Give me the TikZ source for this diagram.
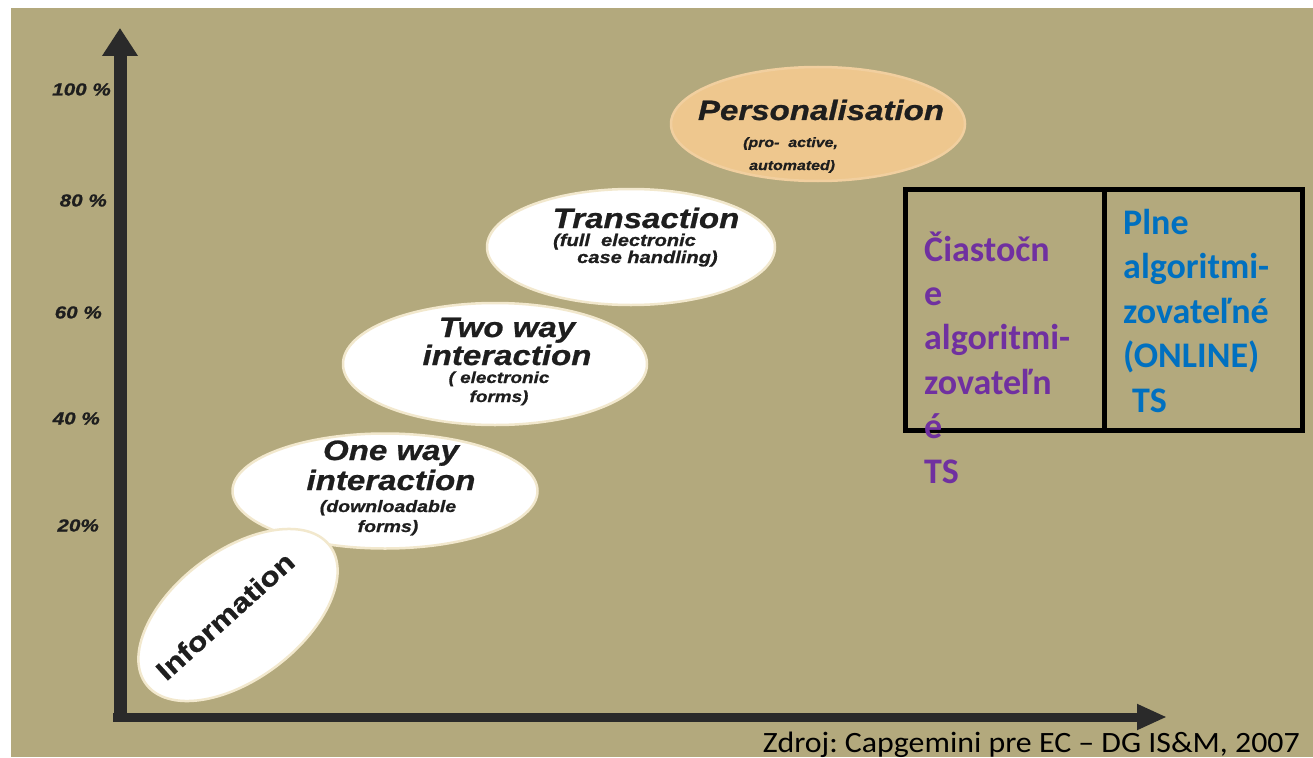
\documentclass[tikz,border=0pt]{standalone}
\usepackage{fontspec}
\usetikzlibrary{shapes.geometric,arrows.meta}
\newfontfamily\hvfont[FakeStretch=1.18,FakeBold=0.8]{Liberation Sans}
\newfontfamily\calfont{Carlito}
\newfontfamily\calwide[FakeStretch=1.08]{Carlito}
\definecolor{khaki}{RGB}{179,169,125}
\definecolor{axisgray}{RGB}{42,42,42}
\definecolor{peach}{RGB}{238,199,142}
\definecolor{creamedge}{RGB}{242,232,205}
\definecolor{tspurple}{RGB}{112,48,160}
\definecolor{tsblue}{RGB}{0,112,192}
\definecolor{labelink}{RGB}{30,30,30}
\tikzset{
  stage/.style={ellipse, fill=white, draw=creamedge, line width=2.5pt, inner sep=0pt},
  peachstage/.style={ellipse, fill=peach, draw=peach!85!white, line width=2.5pt, inner sep=0pt},
  stagetitle/.style={font=\hvfont\bfseries\itshape\fontsize{28}{29}\selectfont, align=center, inner sep=0pt, text=labelink},
  stagesub/.style n args={2}{font=\hvfont\bfseries\itshape\fontsize{#1}{#2}\selectfont, inner sep=0pt, text=labelink},
  ylab/.style={font=\hvfont\bfseries\itshape\fontsize{17.5}{20}\selectfont, inner sep=0pt, text=labelink, anchor=base east},
  axisline/.style={draw=axisgray, fill=axisgray},
  tsbox/.style={draw=black, line width=5pt, inner sep=0pt},
  tstext/.style={font=\calfont\bfseries\fontsize{36}{44.4}\selectfont, align=left, inner sep=0pt, anchor=base west},
  srcnote/.style={font=\calwide\fontsize{29.5}{31}\selectfont, inner sep=0pt, anchor=base east, text=black}
}
\begin{document}
\frenchspacing
\begin{tikzpicture}[x=1pt,y=-1pt]
\useasboundingbox (0,0) rectangle (1313,757);
\fill[white] (0,0) rectangle (1313,757);
\fill[khaki] (11,8) rectangle (1313,757);

% axes
\coordinate (yb) at (120,721);
\coordinate (yt) at (120,28);
\coordinate (xb) at (113,717);
\coordinate (xt) at (1167,717);
\draw[axisline, line width=13pt, -{Triangle[length=28pt,width=34pt]}] (yb) -- (yt);
\draw[axisline, line width=9pt, -{Triangle[length=30pt,width=24pt]}] (xb) -- (xt);

% y labels
\node[ylab] (y100) at (111,95.5) {100 \%};
\node[ylab] (y80) at (107,206.5) {80 \%};
\node[ylab] (y60) at (102,318.5) {60 \%};
\node[ylab] (y40) at (100,424.5) {40 \%};
\node[ylab] (y20) at (99,531.5) {20\%};

% stage ellipses
\node[peachstage, minimum width=294pt, minimum height=114pt] (e5) at (818,124) {};
\node[stage, minimum width=288pt, minimum height=116pt] (e4) at (631,247) {};
\node[stage, minimum width=304pt, minimum height=122pt] (e3) at (495,364) {};
\node[stage, minimum width=305pt, minimum height=115pt] (e2) at (385,491) {};
\node[stage, minimum width=230pt, minimum height=128pt, rotate=37] (e1) at (238,615) {};

% stage texts (base anchor = baseline of the last line)
\node[stagetitle, anchor=base] (t5) at (821,120) {Personalisation};
\node[stagesub={13.5}{23}, align=left, anchor=base west] (s5) at (743,170) {(pro-\ \ active,\\\hspace{6pt}automated)};
\node[stagetitle, anchor=base] (t4) at (646,228) {Transaction};
\node[stagesub={17}{17}, align=left, anchor=base west] (s4) at (553,263) {(full\ \ electronic\\\hspace{24pt}case handling)};
\node[stagetitle, font=\hvfont\bfseries\itshape\fontsize{28}{28}\selectfont, anchor=base] (t3) at (507,365) {Two way\\interaction};
\node[stagesub={16}{19}, align=center, anchor=base] (s3) at (499,402) {( electronic\\forms)};
\node[stagetitle, font=\hvfont\bfseries\itshape\fontsize{28}{30}\selectfont, anchor=base] (t2) at (391,490) {One way\\interaction};
\node[stagesub={16.5}{20}, align=center, anchor=base] (s2) at (388,532) {(downloadable\\forms)};
\node[font=\hvfont\bfseries\fontsize{27}{30}\selectfont, text=labelink, inner sep=0pt, rotate=42] (t1) at (225,616) {Information};

% boxes
\node[tsbox, minimum width=199pt, minimum height=241pt] (b1) at (1005,310) {};
\node[tsbox, minimum width=198pt, minimum height=241pt] (b2) at (1203.5,310) {};
\node[tstext, text=tspurple] (c1) at (924,483) {Čiastočn\\e\\algoritmi-\\zovateľn\\é\\TS};
\node[tstext, text=tsblue] (c2) at (1123,412) {Plne\\algoritmi-\\zovateľné\\(ONLINE)\\\hspace{9pt}TS};

% source
\node[srcnote] (src) at (1300,752) {Zdroj: Capgemini pre EC – DG IS\&M, 2007};
\end{tikzpicture}
\end{document}
